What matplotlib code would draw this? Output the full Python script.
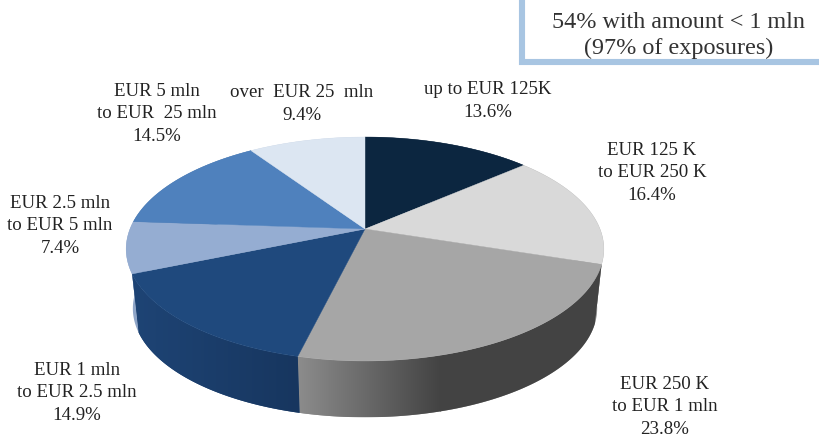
import numpy as np
import matplotlib
matplotlib.use('Agg')
import matplotlib.pyplot as plt
from matplotlib.colors import LinearSegmentedColormap
from matplotlib.patches import Polygon, Rectangle

''' data read off the picture '''
categories = [
    'up to EUR 125K',
    'EUR 125 K\nto EUR 250 K',
    'EUR 250 K\nto EUR 1 mln',
    'EUR 1 mln\nto EUR 2.5 mln',
    'EUR 2.5 mln\nto EUR 5 mln',
    'EUR 5 mln\nto EUR  25 mln',
    'over  EUR 25  mln',
]
shares = [13.6, 16.4, 23.8, 14.9, 7.4, 14.5, 9.4]
note_lines = ['54% with amount < 1 mln', '(97% of exposures)']

''' styles and layout '''
top_colors = ['#0c2640', '#d9d9d9', '#a6a6a6', '#1f497d', '#95add2', '#4f81bd', '#dce6f2']
side_colors = [['#0c2640', '#0c2640'], ['#8a8a8a', '#8a8a8a'], ['#8c8c8c', '#434343'],
               ['#1e4475', '#17365f'], ['#8ea5c8', '#8ea5c8'], ['#3f6a9f', '#3f6a9f'],
               ['#b8c4d6', '#b8c4d6']]
label_xy = [(488, 101), (652, 173), (665, 407), (77, 393), (60, 226), (157, 114), (302, 104)]

# perspective of the disc
cx, cy = 365, 230
a, b, k = 235, 108.4, 0.1786
depth = 60
base_scale = 0.972


def project(theta, scale=1.0, shift=0):
    # theta is clockwise from 12 o'clock, returns pixel coords
    u = np.sin(theta)
    v = np.cos(theta)
    w = 1 + k*v
    return cx + scale*a*u/w, cy + shift - scale*b*v/w


fig = plt.figure(figsize=(8.2, 4.39), dpi=100)
ax = fig.add_axes([0, 0, 1, 1])
ax.set_xlim(0, 820)
ax.set_ylim(439, 0)
ax.axis('off')

plt.rcParams['font.family'] = ['Liberation Serif', 'DejaVu Serif']

edges = np.radians(np.cumsum([0] + shares) / sum(shares) * 360)

''' side wall first, back to front is not needed since tops cover it '''
for i in range(len(shares)):
    t = np.linspace(edges[i], edges[i+1], 120)
    xt, yt = project(t)
    xb, yb = project(t, base_scale, depth)
    pts = np.column_stack([np.r_[xt, xb[::-1]], np.r_[yt, yb[::-1]]])
    poly = Polygon(pts, closed=True, fc=side_colors[i][0], ec='none', zorder=2)
    ax.add_patch(poly)
    if side_colors[i][0] != side_colors[i][1]:
        # horizontal shading of the wall
        cmap = LinearSegmentedColormap.from_list('wall', side_colors[i])
        x0, x1 = pts[:, 0].min(), pts[:, 0].max()
        if i == 2:
            x1 = 440
        grad = np.linspace(0, 1, 256).reshape(1, -1)
        im = ax.imshow(grad, cmap=cmap, aspect='auto', zorder=2.1,
                       extent=(x0, x1, pts[:, 1].max(), pts[:, 1].min()))
        im.set_clip_path(poly)
        if i == 2:
            im2 = ax.imshow(np.ones((1, 2)), cmap=LinearSegmentedColormap.from_list(
                'flat', [side_colors[i][1], side_colors[i][1]]), aspect='auto', zorder=2.1,
                extent=(x1, pts[:, 0].max(), pts[:, 1].max(), pts[:, 1].min()))
            im2.set_clip_path(poly)

ax.set_xlim(0, 820)
ax.set_ylim(439, 0)

''' top face '''
for i in range(len(shares)):
    t = np.linspace(edges[i], edges[i+1], 120)
    xt, yt = project(t)
    pts = np.column_stack([np.r_[cx, xt], np.r_[cy, yt]])
    ax.add_patch(Polygon(pts, closed=True, fc=top_colors[i], ec=top_colors[i], lw=0.3, zorder=3))

''' labels '''
for i in range(len(shares)):
    ax.text(label_xy[i][0], label_xy[i][1], categories[i] + '\n%.1f%%' % shares[i],
            ha='center', va='center', fontsize=13.6, color='#222222', linespacing=1.42, zorder=5)

''' note box runs off the right edge '''
ax.add_patch(Rectangle((522, -6), 320, 68.5, fc='white', ec='#a8c5e2', lw=4.4, zorder=4))
ax.text(679, 35.5, '\n'.join(note_lines), ha='center', va='center', fontsize=17.4,
        color='#333333', linespacing=1.31, zorder=5)

fig.savefig('out.png', dpi=100)
